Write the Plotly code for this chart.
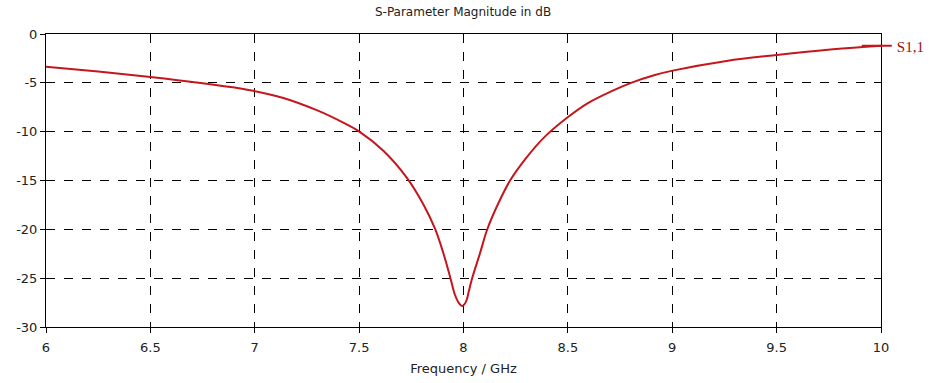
import plotly.graph_objects as go

freq_ghz = [6.0, 6.25, 6.5, 6.75, 6.977, 7.137, 7.297, 7.424, 7.501, 7.616, 7.728, 7.808,
            7.864, 7.903, 7.935, 7.959, 7.978, 7.995, 8.012, 8.025, 8.039, 8.079, 8.114, 8.167,
            8.223, 8.295, 8.39, 8.499, 8.598, 8.71, 8.806, 8.917, 9.002, 9.26, 9.5, 9.77, 10.0]
s11_db = [-3.35, -3.85, -4.4, -5.05, -5.75, -6.55, -7.8, -9.08, -10.0, -11.95, -14.7, -17.45,
          -19.95, -22.4, -24.8, -26.7, -27.55, -27.85, -27.4, -26.4, -25.18, -22.45, -19.99, -17.33,
          -15.01, -12.83, -10.51, -8.53, -7.05, -5.85, -4.98, -4.2, -3.75, -2.76, -2.15, -1.57, -1.2]
x_ticks = [6, 6.5, 7, 7.5, 8, 8.5, 9, 9.5, 10]
y_ticks = [0, -5, -10, -15, -20, -25, -30]

fig = go.Figure()
fig.add_trace(go.Scatter(x=freq_ghz, y=s11_db, mode="lines", name="S1,1",
                         line=dict(color="#c4161c", width=2, shape="spline", smoothing=1.0)))

axis_common = dict(showline=True, linecolor="black", linewidth=1, mirror=True,
                   showgrid=True, gridcolor="black", griddash="dash", gridwidth=1,
                   ticks="outside", ticklen=5, tickcolor="black", zeroline=False,
                   automargin=False,
                   tickfont=dict(family="DejaVu Sans", size=13, color="#222"))

fig.update_xaxes(range=[6, 10], tickvals=x_ticks, ticktext=[str(v) for v in x_ticks],
                 ticklabelstandoff=3,
                 title=dict(text="Frequency / GHz", font=dict(family="DejaVu Sans", size=13, color="#222"), standoff=10),
                 **axis_common)
fig.update_yaxes(range=[-30, 0], tickvals=y_ticks, ticktext=[str(v) for v in y_ticks], **axis_common)

fig.update_layout(
    width=944, height=383,
    margin=dict(l=46, r=63, t=34, b=56),
    paper_bgcolor="white", plot_bgcolor="white",
    title=dict(text="S-Parameter Magnitude in dB", x=0.4905, xanchor="center", y=0.968, yanchor="middle",
               font=dict(family="DejaVu Sans", size=12, color="#222")),
    showlegend=True,
    legend=dict(x=0.971, y=0.959, xanchor="left", yanchor="middle", bgcolor="rgba(0,0,0,0)",
                itemwidth=30, font=dict(family="Liberation Serif", size=15, color="#a01010")),
)

fig.write_html("out.html", config={"displayModeBar": False},
               post_script="document.body.style.margin='0';")
